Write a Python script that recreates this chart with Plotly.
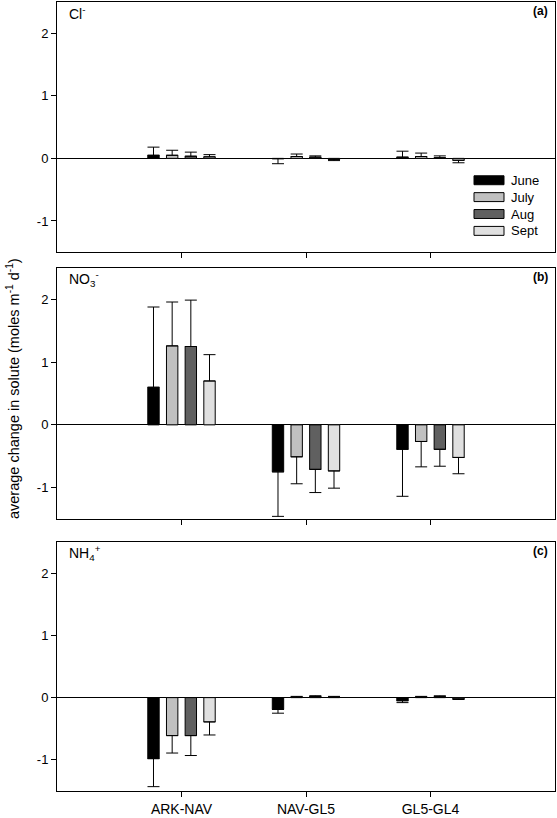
import plotly.graph_objects as go
from plotly.subplots import make_subplots

# ---------------- data ----------------
sites = ["ARK-NAV", "NAV-GL5", "GL5-GL4"]
months = ["June", "July", "Aug", "Sept"]
month_colors = ["#000000", "#c0c0c0", "#606060", "#e0e0e0"]

# Cl-  (rows: June, July, Aug, Sept ; columns: sites)
cl_mean = [[0.05, -0.005, 0.02], [0.05, 0.03, 0.03], [0.035, 0.02, 0.01], [0.025, -0.015, -0.03]]
cl_err = [[0.13, 0.08, 0.095], [0.08, 0.04, 0.055], [0.065, 0.02, 0.03], [0.035, 0.02, 0.04]]

# NO3-
no3_mean = [[0.60, -0.75, -0.39], [1.26, -0.51, -0.265], [1.25, -0.71, -0.39], [0.70, -0.735, -0.52]]
no3_err = [[1.28, 0.71, 0.75], [0.70, 0.43, 0.405], [0.74, 0.37, 0.27], [0.42, 0.275, 0.26]]

# NH4+
nh4_mean = [[-0.98, -0.19, -0.05], [-0.61, 0.01, 0.01], [-0.61, 0.02, 0.015], [-0.39, 0.01, -0.02]]
nh4_err = [[0.45, 0.06, 0.03], [0.28, 0.01, 0.01], [0.32, 0.01, 0.015], [0.21, 0.01, 0.01]]

panels = [
    ("Cl<sup>-</sup>", "(a)", cl_mean, cl_err),
    ("NO<sub>3</sub><sup>-</sup>", "(b)", no3_mean, no3_err),
    ("NH<sub>4</sub><sup>+</sup>", "(c)", nh4_mean, nh4_err),
]
y_ticks = [-1, 0, 1, 2]
y_ticktext = ["-1", "0", "1", "2"]
y_range = [-1.5, 2.5]
y_title = "average change in solute (moles m<sup>-1</sup> d<sup>-1</sup>)"

# ---------------- layout geometry ----------------
W, H = 557, 818
ml, mr, mt, mb = 57, 2, 1, 24
ph = H - mt - mb


def frac(ypix):
    return (H - mb - ypix) / ph


domains = [
    [frac(252.5), 1.0],
    [frac(520.5), frac(268.5)],
    [0.0, frac(543.75)],
]

FONT = "Liberation Sans, Arial, sans-serif"

fig = make_subplots(rows=3, cols=1, shared_xaxes=False, vertical_spacing=0.02)

for r, (label, tag, means, errs) in enumerate(panels, start=1):
    for mi, m in enumerate(months):
        vals = means[mi]
        e = errs[mi]
        plus = [ei if v >= 0 else 0 for v, ei in zip(vals, e)]
        minus = [ei if v < 0 else 0 for v, ei in zip(vals, e)]
        fig.add_trace(
            go.Bar(
                x=sites, y=vals, name=m,
                marker=dict(color=month_colors[mi], line=dict(color="#000000", width=1)),
                error_y=dict(type="data", symmetric=False, array=plus, arrayminus=minus,
                             color="#000000", thickness=1, width=6),
                showlegend=False,
            ),
            row=r, col=1,
        )

fig.update_layout(
    width=W, height=H,
    margin=dict(l=ml, r=mr, t=mt, b=mb),
    barmode="group", bargap=0.4, bargroupgap=0.39,
    plot_bgcolor="white", paper_bgcolor="white",
    font=dict(family=FONT, size=13, color="#000000"),
    showlegend=False,
)

for r in range(1, 4):
    xa = "xaxis" if r == 1 else f"xaxis{r}"
    ya = "yaxis" if r == 1 else f"yaxis{r}"
    fig.layout[ya].update(
        domain=domains[r - 1], range=y_range, tickvals=y_ticks, ticktext=y_ticktext,
        ticks="outside", ticklen=5, tickwidth=1, tickcolor="#000000",
        showline=True, linecolor="#000000", linewidth=1, mirror=True,
        showgrid=False, zeroline=True, zerolinecolor="#000000", zerolinewidth=1,
        tickfont=dict(size=13), fixedrange=True,
    )
    fig.layout[xa].update(
        range=[-1, 3], type="category",
        ticks="outside", ticklen=5, tickwidth=1, tickcolor="#000000",
        showline=True, linecolor="#000000", linewidth=1, mirror=True,
        showgrid=False, showticklabels=(r == 3), tickfont=dict(size=14),
        fixedrange=True,
    )

annotations = []
for r, (label, tag, means, errs) in enumerate(panels, start=1):
    xd = "x domain" if r == 1 else f"x{r} domain"
    yd = "y domain" if r == 1 else f"y{r} domain"
    annotations.append(dict(xref=xd, yref=yd, x=0.02, y=0.955, text=label, showarrow=False,
                            xanchor="left", yanchor="middle", font=dict(size=14)))
    annotations.append(dict(xref=xd, yref=yd, x=0.99, y=0.965, text="<b>" + tag + "</b>",
                            showarrow=False, xanchor="right", yanchor="middle", font=dict(size=12)))

annotations.append(dict(xref="paper", yref="paper", x=(13 - ml) / (W - ml - mr), y=frac(390),
                        text=y_title, textangle=-90, showarrow=False,
                        xanchor="center", yanchor="middle", font=dict(size=14.5)))

# custom legend (swatches) in panel (a)
shapes = []
pa_top, pa_bot = 0.5, 252.5
pw = W - ml - mr
row_y = [180, 197, 214, 231]
for mi, m in enumerate(months):
    yc = row_y[mi]
    y0 = (pa_bot - (yc + 4.5)) / (pa_bot - pa_top)
    y1 = (pa_bot - (yc - 4.5)) / (pa_bot - pa_top)
    shapes.append(dict(type="rect", xref="x domain", yref="y domain",
                       x0=(474 - ml) / pw, x1=(504 - ml) / pw, y0=y0, y1=y1,
                       fillcolor=month_colors[mi], line=dict(color="#000000", width=1)))
    annotations.append(dict(xref="x domain", yref="y domain", x=(509 - ml) / pw,
                            y=(pa_bot - yc) / (pa_bot - pa_top), text=m, showarrow=False,
                            xanchor="left", yanchor="middle", font=dict(size=13)))

fig.update_layout(annotations=annotations, shapes=shapes)

fig.write_html(
    "out.html",
    config={"displayModeBar": False},
    post_script="document.body.style.margin='0px';document.body.style.overflow='hidden';",
)
